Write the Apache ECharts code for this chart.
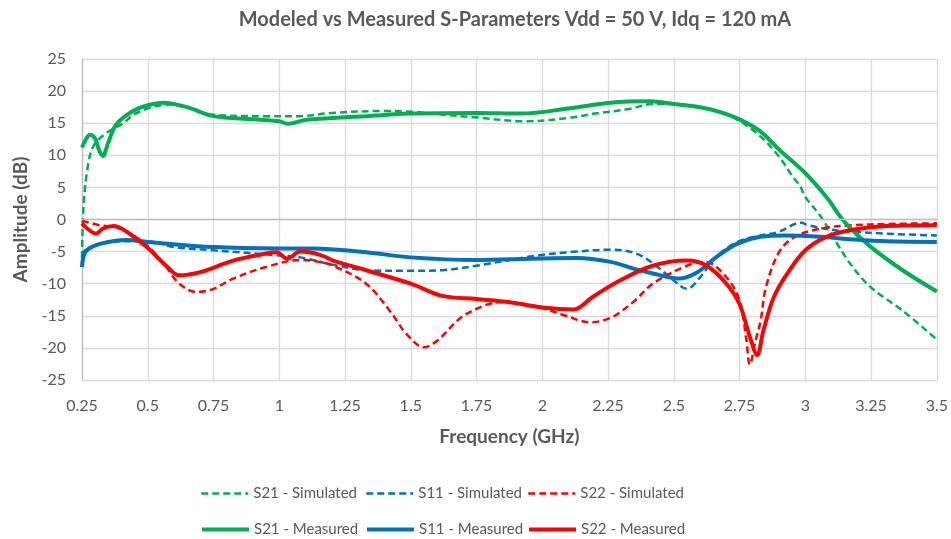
<!DOCTYPE html>
<html>
<head>
<meta charset="utf-8">
<script src="https://cdn.jsdelivr.net/npm/echarts@6/dist/echarts.min.js"></script>
<style>html,body{margin:0;padding:0;background:#fff}#c{width:951px;height:539px}</style>
</head>
<body>
<div id="c"></div>
<script>
const titleText = 'Modeled vs Measured S-Parameters Vdd = 50 V, Idq = 120 mA';
const xTicks = [0.25, 0.5, 0.75, 1, 1.25, 1.5, 1.75, 2, 2.25, 2.5, 2.75, 3, 3.25, 3.5];
const yTicks = [-25, -20, -15, -10, -5, 0, 5, 10, 15, 20, 25];

const s21SimFreq = [0.25,0.255,0.27,0.293,0.344,0.407,0.445,0.508,0.584,0.65,0.75,0.95,1.08,1.2,1.4,1.5,1.6,1.75,1.93,2.1,2.2,2.33,2.42,2.54,2.65,2.74,2.83,2.9,2.95,2.98,3.0,3.06,3.12,3.18,3.25,3.37,3.5];
const s21SimVal  = [-6,1.5,7.7,11.4,13.5,15.0,16.3,17.4,17.9,17.4,16.3,16.1,16.1,16.6,16.9,16.8,16.4,15.9,15.3,15.8,16.5,17.2,18.0,17.9,17.0,15.6,12.9,9.8,6.8,5.2,3.5,0.4,-3.7,-7.4,-10.6,-14.2,-18.7];

const s21MeasFreq = [0.25,0.265,0.28,0.3,0.315,0.329,0.35,0.38,0.444,0.5,0.56,0.65,0.75,0.9,1.0,1.03,1.1,1.2,1.33,1.5,1.75,1.92,2.1,2.26,2.41,2.5,2.61,2.68,2.75,2.83,2.9,3.0,3.08,3.15,3.25,3.37,3.5];
const s21MeasVal  = [11.2,12.5,13.2,12.6,10.8,9.9,12.0,14.8,16.9,17.8,18.2,17.5,16.1,15.6,15.3,14.9,15.5,15.8,16.1,16.5,16.6,16.5,17.3,18.2,18.4,18.0,17.4,16.7,15.6,13.7,10.9,7.2,3.5,-0.4,-4.3,-7.9,-11.2];

const s11SimFreq = [0.25,0.3,0.4,0.5,0.6,0.75,1.0,1.08,1.2,1.33,1.5,1.62,1.75,1.965,2.13,2.26,2.35,2.42,2.5,2.55,2.6,2.66,2.74,2.83,2.9,2.96,2.985,3.01,3.12,3.31,3.5];
const s11SimVal  = [-5.2,-4.0,-3.4,-3.4,-4.3,-4.8,-5.6,-5.9,-7.0,-7.9,-8.0,-7.9,-7.2,-5.7,-5.0,-4.7,-5.2,-6.8,-9.5,-10.8,-9.0,-5.9,-3.5,-2.5,-1.9,-0.7,-0.5,-0.9,-1.7,-2.2,-2.5];

const s11MeasFreq = [0.25,0.255,0.268,0.318,0.42,0.5,0.75,1.0,1.13,1.33,1.5,1.75,1.965,2.13,2.26,2.35,2.42,2.52,2.59,2.66,2.74,2.83,2.93,3.06,3.18,3.31,3.5];
const s11MeasVal  = [-7.4,-5.9,-4.8,-3.8,-3.2,-3.5,-4.3,-4.5,-4.5,-5.1,-5.9,-6.3,-6.1,-6.0,-6.6,-7.7,-8.4,-9.2,-8.2,-5.9,-3.8,-2.7,-2.5,-2.7,-3.1,-3.4,-3.5];

const s22SimFreq = [0.25,0.318,0.395,0.496,0.57,0.62,0.686,0.75,0.825,0.95,1.08,1.155,1.205,1.33,1.42,1.485,1.55,1.6,1.69,1.78,1.84,1.965,2.09,2.18,2.26,2.35,2.42,2.55,2.62,2.7,2.75,2.775,2.789,2.81,2.83,2.85,2.9,2.96,3.06,3.18,3.31,3.5];
const s22SimVal  = [-0.2,-0.9,-1.4,-4.0,-7.4,-10.0,-11.3,-10.8,-9.2,-7.4,-6.3,-6.6,-7.2,-10.0,-14.2,-17.9,-19.9,-18.9,-15.3,-13.4,-12.9,-13.4,-15.0,-16.0,-15.3,-12.7,-10.0,-7.2,-6.6,-9.0,-12.6,-18.5,-22.6,-19.0,-15.8,-10.6,-5.1,-2.7,-1.4,-0.9,-0.7,-0.6];

const s22MeasFreq = [0.25,0.27,0.303,0.33,0.37,0.42,0.496,0.57,0.62,0.7,0.825,0.95,0.99,1.03,1.08,1.155,1.205,1.33,1.5,1.62,1.75,1.877,2.0,2.12,2.19,2.295,2.42,2.55,2.625,2.7,2.75,2.79,2.817,2.84,2.88,2.93,3.0,3.08,3.18,3.31,3.5];
const s22MeasVal  = [-0.6,-1.4,-2.2,-1.4,-1.0,-1.9,-4.3,-7.2,-8.7,-8.2,-6.4,-5.3,-5.1,-6.1,-5.0,-5.5,-6.4,-7.9,-10.0,-11.9,-12.4,-12.9,-13.7,-14.0,-12.1,-9.5,-7.2,-6.4,-7.2,-10.0,-13.2,-18.4,-21.1,-17.4,-12.1,-8.5,-4.8,-2.7,-1.6,-1.0,-0.9];

const seriesNames = ['S21 - Simulated','S11 - Simulated','S22 - Simulated','S21 - Measured','S11 - Measured','S22 - Measured'];
const GREEN = '#00b050', BLUE = '#0070c0', RED = '#ff0000';

function pairs(f, v) { return f.map((x, i) => [x, v[i]]); }
function dashed(name, color, f, v) {
  return { name, type: 'line', data: pairs(f, v), symbol: 'none', smooth: 0.35,
    lineStyle: { color, width: 2.5, type: [7, 4] }, itemStyle: { color }, z: 3 };
}
function solid(name, color, f, v) {
  return { name, type: 'line', data: pairs(f, v), symbol: 'none', smooth: 0.35,
    lineStyle: { color, width: 4 }, itemStyle: { color }, z: 4 };
}

const FONT = 'Lato, "Open Sans", sans-serif';
const legendLefts = [195, 360, 522];
const legendColors = [GREEN, BLUE, RED];
const legends = seriesNames.map((n, i) => ({
  data: [n], left: legendLefts[i % 3], top: i < 3 ? 481 : 517,
  itemWidth: 47, itemHeight: 14, itemGap: 5,
  itemStyle: { opacity: 0, borderWidth: 0 },
  lineStyle: i < 3 ? { width: 2.5, type: [7, 4], color: legendColors[i % 3] } : { width: 4, type: 'solid', color: legendColors[i % 3] },
  textStyle: { fontFamily: FONT, fontSize: 15, color: '#595959' }
}));

const chart = echarts.init(document.getElementById('c'), null, { renderer: 'canvas' });
chart.setOption({
  animation: false,
  backgroundColor: '#fff',
  title: { text: titleText, left: 510, top: 5, textAlign: 'center',
    textStyle: { fontFamily: FONT, fontSize: 20, fontWeight: 'bold', color: '#595959' } },
  legend: legends,
  grid: { left: 82, right: 14, top: 59, bottom: 159, containLabel: false },
  xAxis: {
    type: 'value', min: xTicks[0], max: xTicks[xTicks.length - 1], interval: 0.25,
    name: 'Frequency (GHz)', nameLocation: 'middle', nameGap: 47,
    nameTextStyle: { fontFamily: FONT, fontSize: 19, fontWeight: 'bold', color: '#595959' },
    axisLine: { show: true, onZero: false, lineStyle: { color: '#d9d9d9' } },
    axisTick: { show: false },
    splitLine: { show: true, lineStyle: { color: '#d9d9d9', width: 1.3 } },
    axisLabel: { fontFamily: FONT, fontSize: 16, color: '#595959', margin: 18 }
  },
  yAxis: {
    type: 'value', min: yTicks[0], max: yTicks[yTicks.length - 1], interval: 5,
    name: 'Amplitude (dB)', nameLocation: 'middle', nameGap: 50,
    nameTextStyle: { fontFamily: FONT, fontSize: 19, fontWeight: 'bold', color: '#595959' },
    axisLine: { show: true, lineStyle: { color: '#bfbfbf', width: 1.3 } },
    axisTick: { show: false },
    splitLine: { show: true, lineStyle: { color: '#d9d9d9', width: 1.3 } },
    axisLabel: { fontFamily: FONT, fontSize: 16, color: '#595959', margin: 16 }
  },
  series: [
    dashed(seriesNames[0], GREEN, s21SimFreq, s21SimVal),
    dashed(seriesNames[1], BLUE, s11SimFreq, s11SimVal),
    dashed(seriesNames[2], RED, s22SimFreq, s22SimVal),
    solid(seriesNames[3], GREEN, s21MeasFreq, s21MeasVal),
    solid(seriesNames[4], BLUE, s11MeasFreq, s11MeasVal),
    solid(seriesNames[5], RED, s22MeasFreq, s22MeasVal),
    { type: 'line', data: [], markLine: { silent: true, symbol: 'none', label: { show: false },
      lineStyle: { color: '#bfbfbf', type: 'solid', width: 1.3 }, data: [{ yAxis: 0 }] }, z: 1 }
  ]
});
</script>
</body>
</html>
